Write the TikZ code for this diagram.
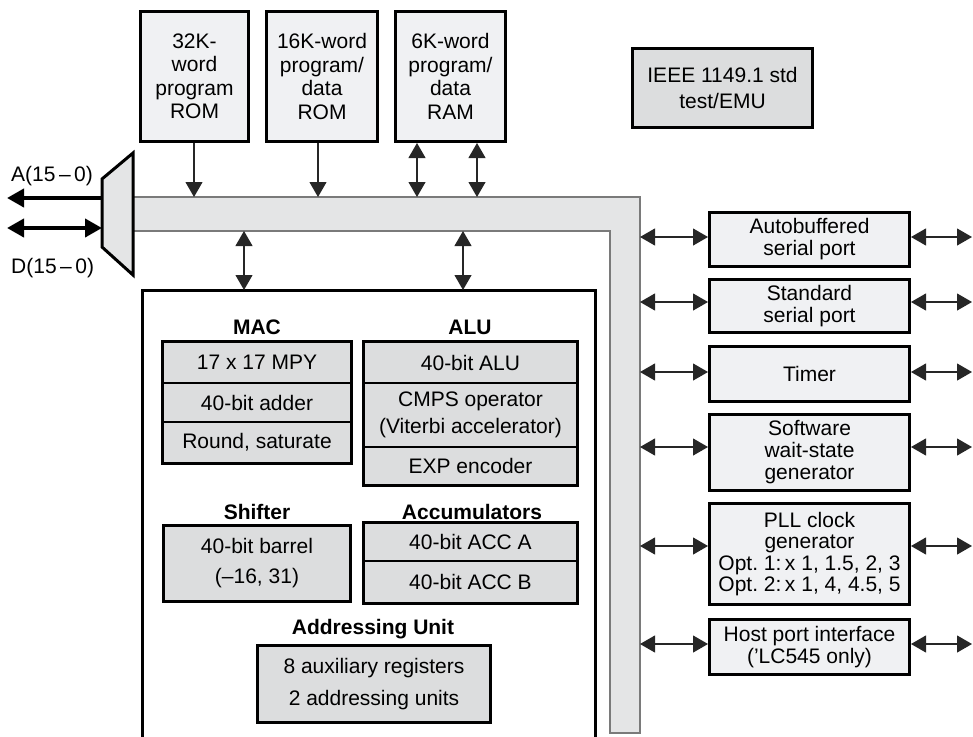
\documentclass[tikz,border=0pt]{standalone}
\usepackage{fontspec}
\setmainfont{Liberation Sans}
\usetikzlibrary{arrows.meta,fit,calc}
\definecolor{lightfill}{HTML}{F0F1F3}
\definecolor{darkfill}{HTML}{DCDDDE}
\definecolor{busfill}{HTML}{E4E5E6}
\definecolor{busedge}{HTML}{7A7A7A}
\begin{document}
\begin{tikzpicture}[x=1pt,y=-1pt,
  >={Triangle[length=15pt,width=17pt]},
  txt/.style={font=\fontsize{21}{23}\selectfont, align=center, inner sep=0pt},
  pbox/.style={txt, draw, line width=3pt, fill=lightfill},
  cellbox/.style={txt, draw, line width=1.2pt, fill=darkfill},
  thickframe/.style={draw, line width=3pt, inner sep=0pt},
  hd/.style={font=\bfseries\fontsize{21}{23}\selectfont, inner sep=0pt},
  arr/.style={line width=1.1pt, draw=black!85, ->},
  darr/.style={line width=1.1pt, draw=black!85, <->},
  bigtip/.tip={Triangle[length=17pt,width=18pt]},
  bigarr/.style={line width=4pt, line cap=butt}
]
\useasboundingbox (0,0) rectangle (973,736);

% ---------- bus ----------
\draw[line width=1.3pt, draw=busedge, fill=busfill]
  (133,197) -- (640,197) -- (640,733) -- (610,733) -- (610,231) -- (133,231) -- cycle;
\coordinate (busTop) at (0,197);
\coordinate (busBot) at (0,231);
\coordinate (busR) at (640,0);
\coordinate (rEdge) at (972,0);

% ---------- mux and external buses ----------
\draw[line width=3pt, fill=busfill, line join=miter]
  (102,179) -- (133,153) -- (133,275) -- (102,247) -- cycle;
\coordinate (muxA) at (102,198);
\coordinate (muxD) at (102,228);
\coordinate (aEnd) at (7,198);
\coordinate (dEnd) at (7,228);
\draw[bigarr, -bigtip] (muxA) -- (aEnd);
\draw[bigarr, bigtip-bigtip] (dEnd) -- (muxD);
\node[txt, anchor=west] (alab) at (11,176) {A(15\,–\,0)};
\node[txt, anchor=west] (dlab) at (11,268) {D(15\,–\,0)};

% ---------- memories ----------
\node[pbox, minimum width=108, minimum height=130, font=\fontsize{21}{23.5}\selectfont] (rom1) at (194.5,76.5) {32K-\\word\\program\\ROM};
\node[pbox, minimum width=111, minimum height=130, font=\fontsize{21}{23.5}\selectfont] (rom2) at (322,76.5) {16K-word\\program/\\data\\ROM};
\node[pbox, minimum width=110, minimum height=130, font=\fontsize{21}{23.5}\selectfont] (ram) at (450.5,76.5) {6K-word\\program/\\data\\RAM};
\node[pbox, fill=darkfill, minimum width=180, minimum height=79, font=\fontsize{21}{26}\selectfont] (ieee) at (722.5,88) {IEEE 1149.1 std\\test/EMU};

\draw[arr] ([xshift=-0.5pt]rom1.south) -- ([xshift=-0.5pt]rom1.south |- busTop);
\draw[arr] ([xshift=-4pt]rom2.south) -- ([xshift=-4pt]rom2.south |- busTop);
\draw[darr] ([xshift=-33.5pt]ram.south) -- ([xshift=-33.5pt]ram.south |- busTop);
\draw[darr] ([xshift=26.5pt]ram.south) -- ([xshift=26.5pt]ram.south |- busTop);

% ---------- CPU ----------
\draw[line width=3pt] (142,740) -- (142,290) -- (595,290) -- (595,740);
\coordinate (cpu1) at (244,290);
\coordinate (cpu2) at (463,290);
\draw[darr] (cpu1 |- busBot) -- (cpu1);
\draw[darr] (cpu2 |- busBot) -- (cpu2);

% MAC
\node[hd] (machd) at (257,327) {MAC};
\node[cellbox, minimum width=188, minimum height=41] (mac1) at (257,362.5) {17 x 17 MPY};
\node[cellbox, minimum width=188, minimum height=39] (mac2) at (257,402.5) {40-bit adder};
\node[cellbox, minimum width=188, minimum height=41] (mac3) at (257,442.5) {Round, saturate};
\node[thickframe, fit=(mac1)(mac3)] (mac) {};

% ALU
\node[hd] (aluhd) at (470,327) {ALU};
\node[cellbox, minimum width=213, minimum height=41] (alu1) at (470.5,362.5) {40-bit ALU};
\node[cellbox, minimum width=213, minimum height=64, font=\fontsize{21}{27}\selectfont] (alu2) at (470.5,415) {CMPS operator\\(Viterbi accelerator)};
\node[cellbox, minimum width=213, minimum height=38] (alu3) at (470.5,466) {EXP encoder};
\node[thickframe, fit=(alu1)(alu3)] (alu) {};

% Shifter
\node[hd] (shfhd) at (257,512) {Shifter};
\node[cellbox, line width=3pt, minimum width=187, minimum height=76, font=\fontsize{21}{30}\selectfont] (shf) at (257,563.5) {40-bit barrel\\(–16, 31)};

% Accumulators
\node[hd] (acchd) at (472,512) {Accumulators};
\node[cellbox, minimum width=213, minimum height=38] (acc1) at (470.5,542) {40-bit ACC A};
\node[cellbox, minimum width=213, minimum height=42] (acc2) at (470.5,582) {40-bit ACC B};
\node[thickframe, fit=(acc1)(acc2)] (acc) {};

% Addressing unit
\node[hd] (auhd) at (373,629) {Addressing Unit};
\node[cellbox, line width=3pt, minimum width=233, minimum height=77, font=\fontsize{21}{32}\selectfont] (au) at (374,684) {8 auxiliary registers\\2 addressing units};

% ---------- peripherals ----------
\node[pbox, minimum width=200, minimum height=54, font=\fontsize{21}{22}\selectfont] (ab) at (809.5,239.5) {Autobuffered\\serial port};
\node[pbox, minimum width=200, minimum height=53, font=\fontsize{21}{22}\selectfont] (ss) at (809.5,306) {Standard\\serial port};
\node[pbox, minimum width=200, minimum height=55] (tm) at (809.5,374) {Timer};
\node[pbox, minimum width=200, minimum height=76, font=\fontsize{21}{22}\selectfont] (sw) at (809.5,452.5) {Software\\wait-state\\generator};
\node[pbox, minimum width=200, minimum height=101, font=\fontsize{21}{21.5}\selectfont] (pll) at (809.5,554) {PLL clock\\generator\\Opt.~1:\,x 1, 1.5, 2, 3\\Opt.~2:\,x 1, 4, 4.5, 5};
\node[pbox, minimum width=200, minimum height=55, font=\fontsize{21}{22}\selectfont] (hpi) at (809.5,647) {Host port interface\\('LC545 only)};

\foreach \n/\s in {ab/2.5, ss/4, tm/2, sw/5.5, pll/8, hpi/3} {
  \draw[darr] ([yshift=\s pt]\n.west -| busR) -- ([yshift=\s pt]\n.west);
  \draw[darr] ([yshift=\s pt]\n.east) -- ([yshift=\s pt]\n.east -| rEdge);
}
\end{tikzpicture}
\end{document}
